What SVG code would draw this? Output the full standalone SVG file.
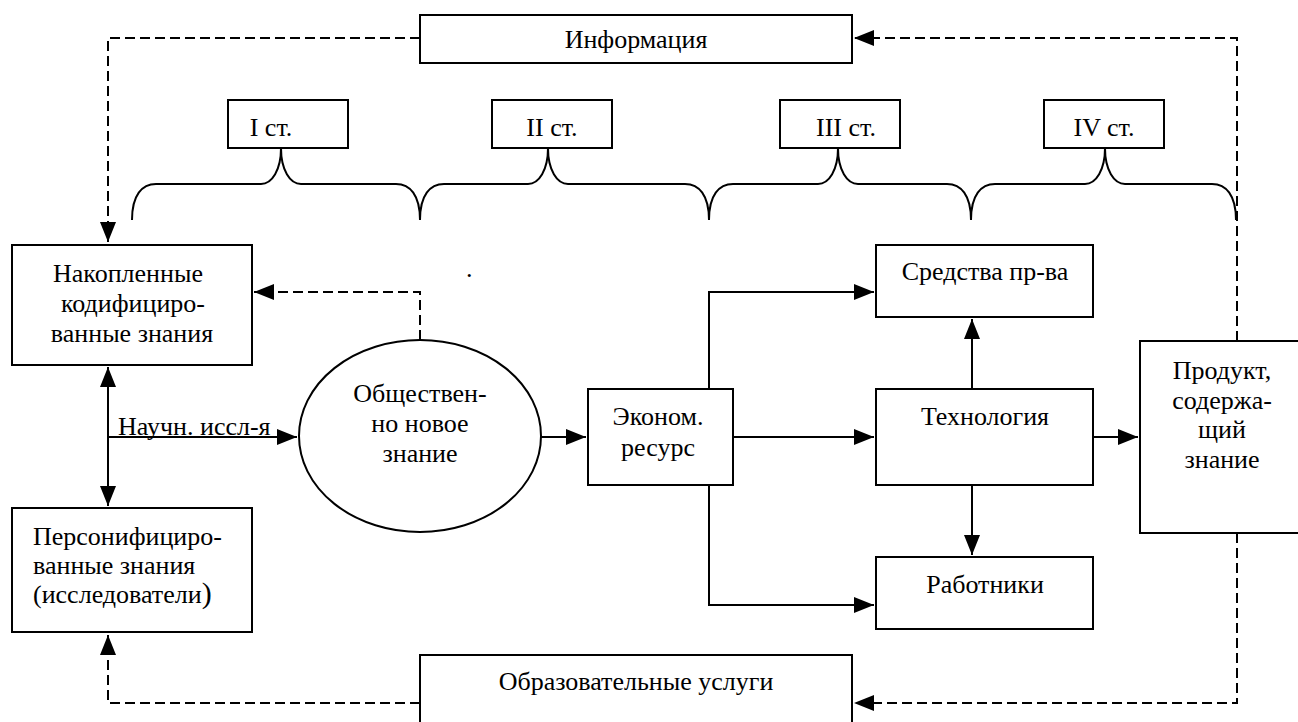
<svg xmlns="http://www.w3.org/2000/svg" width="1298" height="722" viewBox="0 0 1298 722">
<style>
.box{fill:#fff;stroke:#000;stroke-width:2}
.c{text-anchor:middle}
.ln{fill:none;stroke:#000;stroke-width:2}
.ds{fill:none;stroke:#000;stroke-width:2;stroke-dasharray:10,5}
</style>
<defs>
<marker id="ah" markerUnits="userSpaceOnUse" markerWidth="22" markerHeight="18" refX="20" refY="8" orient="auto">
<path d="M0,0 L20,8 L0,16 Z" fill="#000"/>
</marker>
</defs>
<rect width="1298" height="722" fill="#fff"/>
<g id="connectors">
<path class="ds" d="M420,38 H108 V242" marker-end="url(#ah)"/>
<path class="ds" d="M1237,341 V38 H854" marker-end="url(#ah)"/>
<path class="ds" d="M420,340 V292 H254" marker-end="url(#ah)"/>
<path class="ds" d="M1237,533 V703 H854" marker-end="url(#ah)"/>
<path class="ds" d="M420,703 H108 V635" marker-end="url(#ah)"/>
<path class="ln" d="M108,437 V367" marker-end="url(#ah)"/>
<path class="ln" d="M108,437 V506" marker-end="url(#ah)"/>
<path class="ln" d="M108,437 H297" marker-end="url(#ah)"/>
<path class="ln" d="M541,437 H586" marker-end="url(#ah)"/>
<path class="ln" d="M733,437 H874" marker-end="url(#ah)"/>
<path class="ln" d="M709,389 V292 H874" marker-end="url(#ah)"/>
<path class="ln" d="M709,485 V605 H874" marker-end="url(#ah)"/>
<path class="ln" d="M972,389 V319" marker-end="url(#ah)"/>
<path class="ln" d="M972,485 V555" marker-end="url(#ah)"/>
<path class="ln" d="M1093,437 H1138" marker-end="url(#ah)"/>
<path class="ln" d="M132,220 C132,195 142,184 156,184 L261,184 C272,184 281,170 281,148 C281,170 290,184 301,184 L396,184 C410,184 420,195 420,220 C420,195 430,184 444,184 L528,184 C539,184 548,170 548,148 C548,170 557,184 568,184 L685,184 C699,184 709,195 709,220 C709,195 719,184 733,184 L818,184 C829,184 838,170 838,148 C838,170 847,184 858,184 L947,184 C961,184 971,195 971,220 C971,195 981,184 995,184 L1085,184 C1096,184 1105,170 1105,148 C1105,170 1114,184 1125,184 L1212,184 C1226,184 1236,195 1236,220"/>
</g>
<g font-family="Liberation Serif, Times New Roman, DejaVu Serif, serif" font-size="26" fill="#000">
<g id="info"><rect class="box" x="420" y="15" width="432" height="48"/><text class="c" x="636" y="48">Информация</text></g>
<g id="st1"><rect class="box" x="228" y="100" width="120" height="48"/><text class="c" x="271" y="136">I ст.</text></g>
<g id="st2"><rect class="box" x="492" y="100" width="120" height="48"/><text class="c" x="552" y="136">II ст.</text></g>
<g id="st3"><rect class="box" x="780" y="100" width="120" height="48"/><text class="c" x="846" y="136">III ст.</text></g>
<g id="st4"><rect class="box" x="1044" y="100" width="120" height="48"/><text class="c" x="1104" y="136">IV ст.</text></g>
<g id="nakop"><rect class="box" x="12" y="245" width="240" height="120"/>
<text class="c" x="128" y="282">Накопленные</text>
<text class="c" x="133" y="312">кодифициро-</text>
<text class="c" x="132" y="342">ванные знания</text></g>
<text x="466" y="277">.</text>
<g id="person"><rect class="box" x="12" y="508" width="240" height="124"/>
<text x="33" y="545">Персонифициро-</text>
<text x="33" y="574">ванные знания</text>
<text x="33" y="603">(исследователи<tspan font-size="30">)</tspan></text></g>
<g id="nauch"><text x="118" y="435">Научн. иссл-я</text><line x1="118" y1="437" x2="274" y2="437" stroke="#000" stroke-width="1.5"/></g>
<g id="novoe"><ellipse class="box" cx="420" cy="436" rx="121" ry="96"/>
<text class="c" x="420" y="402">Обществен-</text>
<text class="c" x="420" y="432">но новое</text>
<text class="c" x="420" y="462">знание</text></g>
<g id="econ"><rect class="box" x="588" y="389" width="145" height="96"/>
<text class="c" x="658" y="425">Эконом.</text>
<text class="c" x="658" y="456">ресурс</text></g>
<g id="sredstva"><rect class="box" x="876" y="245" width="217" height="72"/><text class="c" x="985" y="280">Средства пр-ва</text></g>
<g id="tech"><rect class="box" x="876" y="389" width="217" height="96"/><text class="c" x="985" y="425">Технология</text></g>
<g id="rabot"><rect class="box" x="876" y="557" width="217" height="72"/><text class="c" x="985" y="593">Работники</text></g>
<g id="product"><rect class="box" x="1140" y="341" width="168" height="192"/>
<text class="c" x="1222" y="379">Продукт,</text>
<text class="c" x="1222" y="409">содержа-</text>
<text class="c" x="1222" y="438">щий</text>
<text class="c" x="1222" y="468">знание</text></g>
<g id="obraz"><rect class="box" x="420" y="655" width="432" height="80"/><text class="c" x="636" y="690">Образовательные услуги</text></g>
</g>
</svg>
